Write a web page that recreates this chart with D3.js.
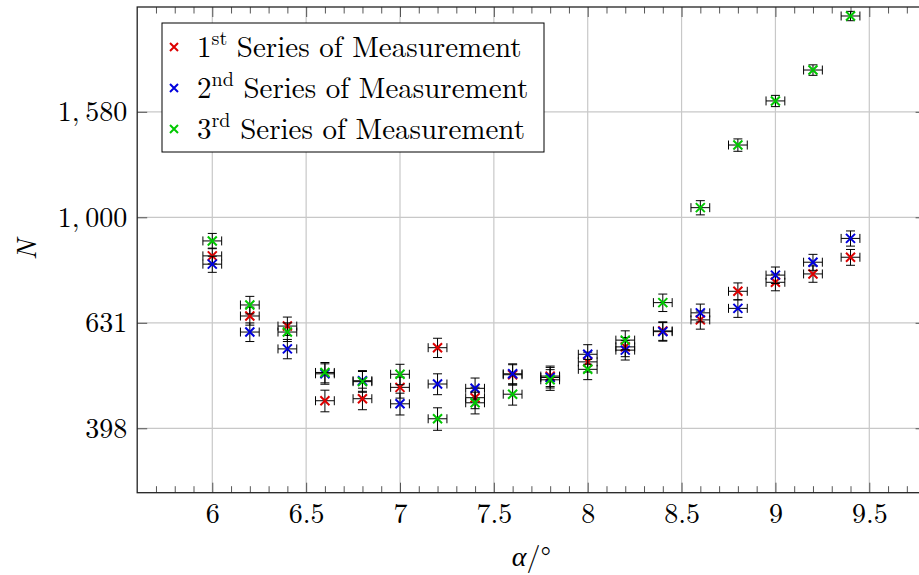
<!DOCTYPE html>
<html>
<head>
<meta charset="utf-8">
<script src="https://cdn.jsdelivr.net/npm/d3@7"></script>
<style>
  body { margin: 0; background: #fff; }
</style>
</head>
<body>
<div class="chart"></div>
<script>
// angle alpha in degrees
var alphas = [6.0, 6.2, 6.4, 6.6, 6.8, 7.0, 7.2, 7.4, 7.6, 7.8, 8.0, 8.2, 8.4, 8.6, 8.8, 9.0, 9.2, 9.4];

// counts N for each series of measurement
var series1 = [845, 650, 622, 449, 453, 476, 566, 455, 503, 500, 532, 568, 609, 639, 724, 753, 781, 840];
var series2 = [815, 606, 563, 505, 490, 443, 483, 474, 505, 497, 550, 560, 607, 659, 672, 777, 822, 912];
var series3 = [902, 682, 606, 508, 488, 504, 415, 445, 462, 492, 515, 585, 689, 1043, 1371, 1662, 1902, 2408];

var seriesNames = ["1", "2", "3"];
var seriesSup = ["st", "nd", "rd"];
var seriesColors = ["#dd0000", "#0000dd", "#00c800"];

// x error of the angle
var alphaErr = 0.05;

var xTicks = [6, 6.5, 7, 7.5, 8, 8.5, 9, 9.5];
var xTickLabels = ["6", "6.5", "7", "7.5", "8", "8.5", "9", "9.5"];
var yTickExp = [2.6, 2.8, 3.0, 3.2];
var yTickLabels = ["398", "631", "1,\u2009000", "1,\u2009580"];

// pick an installed serif face (no web fonts here)
function hasFont(name) {
  var ctx = document.createElement("canvas").getContext("2d");
  var s = "Series of Measurement 0123456789";
  return ["monospace", "sans-serif"].some(function(base) {
    ctx.font = "40px " + base;
    var w0 = ctx.measureText(s).width;
    ctx.font = "40px '" + name + "', " + base;
    return ctx.measureText(s).width !== w0;
  });
}
var serifCandidates = ["Latin Modern Roman", "CMU Serif", "Liberation Serif", "DejaVu Serif", "Noto Serif"];
var found = serifCandidates.filter(hasFont);
var serif = (found.length ? "'" + found[0] + "', " : "") + "serif";

var svgWidth = 919;
var svgHeight = 575;

var margin = { top: 7, left: 137.2 };
var width = 788.4;
var height = 485.7;

var svg = d3.select(".chart")
  .append("svg")
  .attr("width", svgWidth)
  .attr("height", svgHeight)
  .attr("font-family", serif);

var chartGroup = svg.append("g")
  .attr("transform", `translate(${margin.left}, ${margin.top})`);

// Scales
var xScale = d3.scaleLinear()
  .domain([5.6, 9.8])
  .range([0, width]);

var yScale = d3.scaleLog()
  .domain([Math.pow(10, 2.4779), Math.pow(10, 3.3987)])
  .range([height, 0]);

var yTicks = yTickExp.map(e => Math.pow(10, e));
var minorX = d3.range(57, 99).map(d => d / 10).filter(d => xTicks.indexOf(d) < 0);

// Grid
chartGroup.append("g").selectAll("line")
  .data(xTicks)
  .enter()
  .append("line")
  .attr("x1", d => xScale(d))
  .attr("x2", d => xScale(d))
  .attr("y1", 0)
  .attr("y2", height)
  .attr("stroke", "#c8c8c8")
  .attr("stroke-width", 1.2);

chartGroup.append("g").selectAll("line")
  .data(yTicks)
  .enter()
  .append("line")
  .attr("x1", 0)
  .attr("x2", width)
  .attr("y1", d => yScale(d))
  .attr("y2", d => yScale(d))
  .attr("stroke", "#c8c8c8")
  .attr("stroke-width", 1.2);

// Axes, ticks inside on all four sides
var bottomAxis = d3.axisBottom(xScale).tickValues(xTicks).tickSize(-10).tickPadding(10)
  .tickFormat((d, i) => xTickLabels[i]);
var bottomMinor = d3.axisBottom(xScale).tickValues(minorX).tickSize(-6.5).tickFormat("");
var topAxis = d3.axisTop(xScale).tickValues(xTicks).tickSize(-10).tickFormat("");
var topMinor = d3.axisTop(xScale).tickValues(minorX).tickSize(-6.5).tickFormat("");
var leftAxis = d3.axisLeft(yScale).tickValues(yTicks).tickSize(-10).tickPadding(10)
  .tickFormat((d, i) => yTickLabels[i]);
var rightAxis = d3.axisRight(yScale).tickValues(yTicks).tickSize(-10).tickFormat("");

function styleAxis(g) {
  g.attr("font-family", serif);
  g.select(".domain").remove();
  g.selectAll(".tick line").attr("stroke", "#444").attr("stroke-width", 0.9);
  g.selectAll(".tick text")
    .style("font-family", serif)
    .style("font-size", "28px")
    .attr("fill", "#000");
}

chartGroup.append("g").attr("transform", `translate(0, ${height})`).call(bottomAxis).call(styleAxis)
  .selectAll(".tick text").attr("dy", "0.71em");
chartGroup.append("g").attr("transform", `translate(0, ${height})`).call(bottomMinor).call(styleAxis);
chartGroup.append("g").call(topAxis).call(styleAxis);
chartGroup.append("g").call(topMinor).call(styleAxis);
chartGroup.append("g").call(leftAxis).call(styleAxis);
chartGroup.append("g").attr("transform", `translate(${width}, 0)`).call(rightAxis).call(styleAxis);

chartGroup.append("rect")
  .attr("width", width)
  .attr("height", height)
  .attr("fill", "none")
  .attr("stroke", "#222")
  .attr("stroke-width", 1.3);

// Data points with error bars
var allSeries = [series1, series2, series3];
var cap = 4.5;
var mk = 4.5;

allSeries.forEach(function(values, s) {
  var pts = alphas.map((a, i) => ({ x: a, n: values[i], err: Math.sqrt(values[i]) }));
  var g = chartGroup.append("g");

  var bars = g.selectAll(".bar")
    .data(pts)
    .enter()
    .append("g")
    .attr("stroke", "#000")
    .attr("stroke-width", 1)
    .attr("fill", "none");

  // horizontal error bar
  bars.append("path")
    .attr("d", function(d) {
      var x0 = xScale(d.x - alphaErr), x1 = xScale(d.x + alphaErr), y = yScale(d.n);
      return `M${x0},${y}H${x1}M${x0},${y - cap}V${y + cap}M${x1},${y - cap}V${y + cap}`;
    });
  // vertical error bar
  bars.append("path")
    .attr("d", function(d) {
      var x = xScale(d.x), y0 = yScale(d.n - d.err), y1 = yScale(d.n + d.err);
      return `M${x},${y0}V${y1}M${x - cap},${y0}H${x + cap}M${x - cap},${y1}H${x + cap}`;
    });

  g.selectAll(".mark")
    .data(pts)
    .enter()
    .append("path")
    .attr("d", function(d) {
      var x = xScale(d.x), y = yScale(d.n);
      return `M${x - mk},${y - mk}L${x + mk},${y + mk}M${x - mk},${y + mk}L${x + mk},${y - mk}`;
    })
    .attr("stroke", seriesColors[s])
    .attr("stroke-width", 2);
});

// Legend
var legend = svg.append("g").attr("transform", "translate(162, 23)");
legend.append("rect")
  .attr("width", 382)
  .attr("height", 129)
  .attr("fill", "#fff")
  .attr("stroke", "#000")
  .attr("stroke-width", 1);

seriesNames.forEach(function(name, i) {
  var cy = 24 + i * 41;
  legend.append("path")
    .attr("d", `M${12 - 4},${cy - 4}L${12 + 4},${cy + 4}M${12 - 4},${cy + 4}L${12 + 4},${cy - 4}`)
    .attr("stroke", seriesColors[i])
    .attr("stroke-width", 2);
  var t = legend.append("text")
    .attr("x", 35)
    .attr("y", cy + 10)
    .style("font-family", serif)
    .style("font-size", "29px");
  t.append("tspan").text(name);
  t.append("tspan").attr("dy", -12).style("font-size", "20px").text(seriesSup[i]);
  t.append("tspan").attr("dy", 12).text(" Series of Measurement");
});

// Axis labels
svg.append("text")
  .attr("transform", `translate(36, ${margin.top + height / 2}) rotate(-90)`)
  .attr("text-anchor", "middle")
  .style("font-family", serif)
  .style("font-size", "28px")
  .style("font-style", "italic")
  .text("N");

var xl = svg.append("text")
  .attr("x", margin.left + width / 2)
  .attr("y", 566)
  .attr("text-anchor", "middle")
  .style("font-family", serif)
  .style("font-size", "28px");
xl.append("tspan").style("font-style", "italic").text("α");
xl.append("tspan").text("/°");
</script>
</body>
</html>
